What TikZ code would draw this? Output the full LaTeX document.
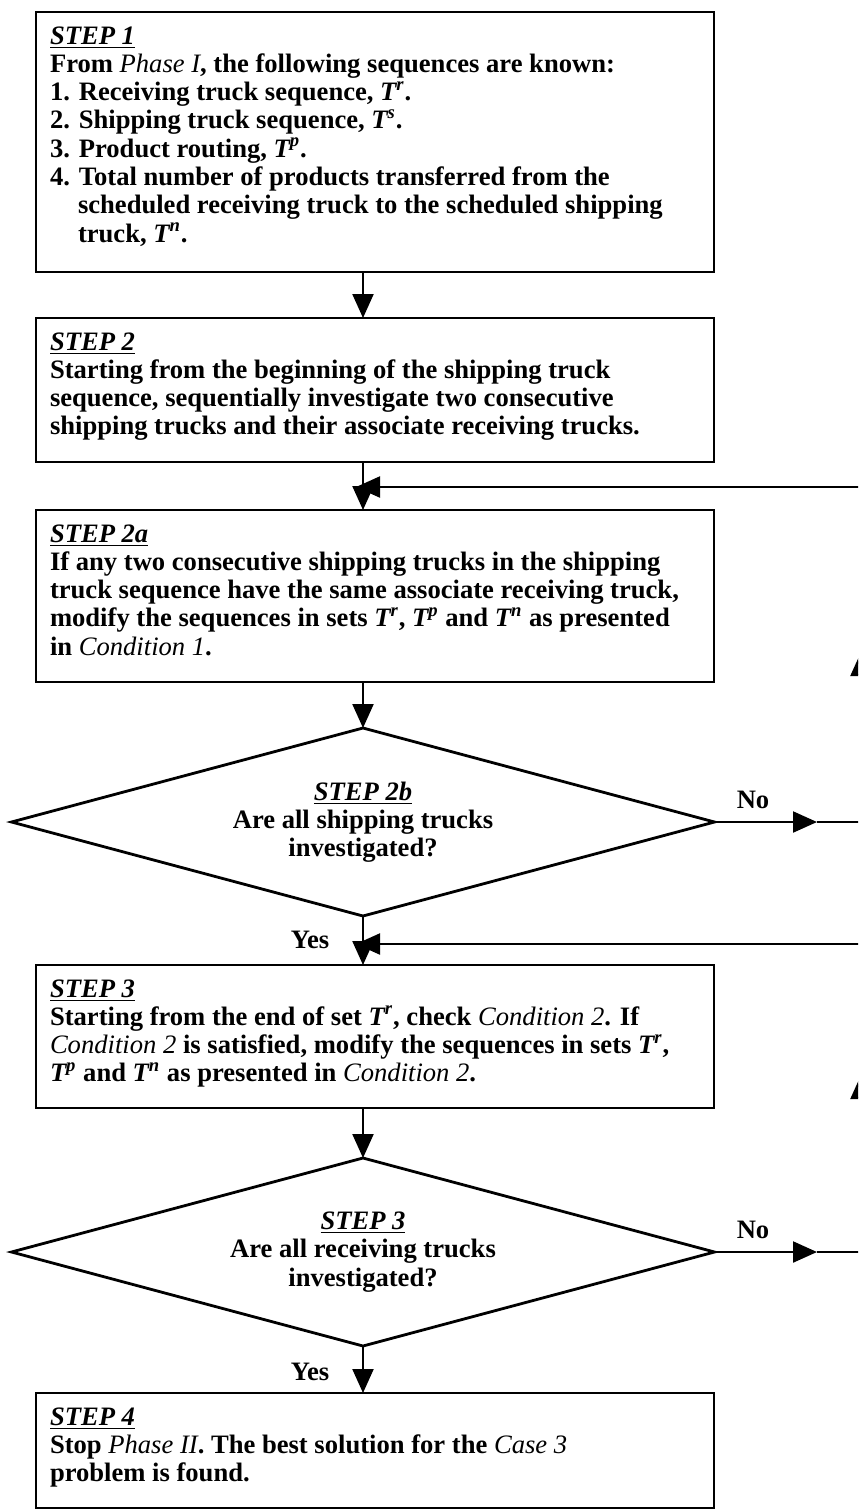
\documentclass[tikz,border=0pt]{standalone}
\usepackage{fontspec}
\setmainfont{Liberation Serif}
\usetikzlibrary{shapes.geometric,arrows.meta}
\newcommand{\stp}[1]{\underline{\textit{#1}}}
\newcommand{\ti}[1]{{\mdseries\itshape #1}}
\newcommand{\tv}[1]{{\itshape T}\textsuperscript{\itshape #1}}
\newcommand{\bxtext}[2]{\parbox[c][#1][t]{325pt}{\fontsize{13.3}{14.15}\selectfont\bfseries\rule{0pt}{16pt}#2}}
\begin{document}
\begin{tikzpicture}[x=0.5pt,y=-0.5pt,
  box/.style={draw,line width=1.4pt,rectangle,anchor=north west,inner xsep=7pt,inner ysep=0pt,outer sep=0pt},
  dec/.style={draw,line width=1.4pt,diamond,aspect=3.74,minimum width=351.5pt,minimum height=94pt,inner sep=0pt,outer sep=0pt,align=center,font=\fontsize{13.3}{14.15}\selectfont\bfseries},
  conn/.style={line width=1.1pt},
  arr/.style={conn,-{Triangle[length=12pt,width=10.5pt]}},
  lbl/.style={font=\fontsize{13.3}{14.15}\selectfont\bfseries,inner sep=0pt}
]
\useasboundingbox (0,0) rectangle (858,1511);
\clip (0,0) rectangle (858,1511);

\node[box] (b1) at (36,12) {\bxtext{130pt}{\stp{STEP 1}\\
From \ti{Phase I}, the following sequences are known:\\
1. Receiving truck sequence, \tv{r}.\\
2. Shipping truck sequence, \tv{s}.\\
3. Product routing, \tv{p}.\\
4. Total number of products transferred from the\\
\hspace*{14pt}scheduled receiving truck to the scheduled shipping\\
\hspace*{14pt}truck, \tv{n}.}};

\node[box] (b2) at (36,318) {\bxtext{72pt}{\stp{STEP 2}\\
Starting from the beginning of the shipping truck\\
sequence, sequentially investigate two consecutive\\
shipping trucks and their associate receiving trucks.}};

\node[box] (b2a) at (36,510) {\bxtext{86pt}{\stp{STEP 2a}\\
If any two consecutive shipping trucks in the shipping\\
truck sequence have the same associate receiving truck,\\
modify the sequences in sets \tv{r}, \tv{p} and \tv{n} as presented\\
in \ti{Condition 1}.}};

\node[dec] (d1) at (363,822) {\stp{STEP 2b}\\Are all shipping trucks\\investigated?};

\node[box] (b3) at (36,965) {\bxtext{71.5pt}{\stp{STEP 3}\\
Starting from the end of set \tv{r}, check \ti{Condition 2}. If\\
\ti{Condition 2} is satisfied, modify the sequences in sets \tv{r},\\
\tv{p} and \tv{n} as presented in \ti{Condition 2}.}};

\node[dec] (d2) at (363,1252) {\stp{STEP 3}\\Are all receiving trucks\\investigated?};

\node[box] (b4) at (36,1393) {\bxtext{57.5pt}{\stp{STEP 4}\\
Stop \ti{Phase II}. The best solution for the \ti{Case 3}\\
problem is found.}};

\node[lbl] (no1) at (753,800) {No};
\node[lbl] (yes1) at (310,940) {Yes};
\node[lbl] (no2) at (753,1230) {No};
\node[lbl] (yes2) at (310,1372) {Yes};

\coordinate (n1) at (817,822);
\coordinate (c1) at (861,822);
\coordinate (c1m) at (861,652);
\coordinate (c1t) at (861,487);
\coordinate (j1) at (356,487);
\coordinate (n2) at (817,1252);
\coordinate (c2) at (861,1252);
\coordinate (c2m) at (861,1075);
\coordinate (c2t) at (861,944);
\coordinate (j2) at (356,944);

\draw[arr] (b1.south -| d1.north) -- (b2.north -| d1.north);
\draw[arr] (b2.south -| d1.north) -- (b2a.north -| d1.north);
\draw[arr] (b2a.south -| d1.north) -- (d1.north);
\draw[arr] (d1.south) -- (b3.north -| d1.south);
\draw[arr] (b3.south -| d2.north) -- (d2.north);
\draw[arr] (d2.south) -- (b4.north -| d2.south);

\draw[arr] (d1.east) -- (n1);
\draw[arr] (n1) -- (c1) -- (c1m);
\draw[arr] (c1m) -- (c1t) -- (j1);
\draw[arr] (d2.east) -- (n2);
\draw[arr] (n2) -- (c2) -- (c2m);
\draw[arr] (c2m) -- (c2t) -- (j2);
\end{tikzpicture}
\end{document}
